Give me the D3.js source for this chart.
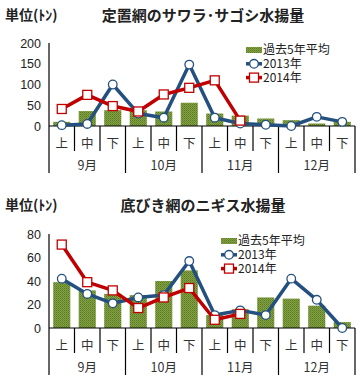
<!DOCTYPE html>
<html>
<head>
<meta charset="utf-8">
<script src="https://cdn.jsdelivr.net/npm/d3@7"></script>
<style>
  body { margin: 0; background: #fff; }
  svg { display: block; }
</style>
</head>
<body>
<script>
// categories
var months = ["9月", "10月", "11月", "12月"];
var parts = ["上", "中", "下"];
var legendNames = ["過去5年平均", "2013年", "2014年"];

// 定置網のサワラ・サゴシ (トン)
var sawaraAvg = [10, 36, 38, 38, 35, 56, 30, 25, 18, 14, 6, 10];
var sawara2013 = [2, 5, 100, 30, 20, 148, 20, 6, 3, 0, 22, 10];
var sawara2014 = [41, 75, 48, 35, 76, 92, 110, 13];

// 底びき網のニギス (トン)
var nigisuAvg = [39, 32, 29, 28, 40, 49, 11, 16, 26, 25, 19, 5];
var nigisu2013 = [42, 29, 21, 26, 28, 57, 11, 15, 11, 42, 24, 0];
var nigisu2014 = [71, 39, 32, 17, 26, 34, 7, 12];

var sawaraTicks = [0, 50, 100, 150, 200];
var nigisuTicks = [0, 20, 40, 60, 80];

var cats = [];
months.forEach(function (m) {
    parts.forEach(function (p) { cats.push(m + p); });
});

const blue = "#24507f",
      red = "#c00000",
      jp = "'Noto Sans CJK JP', sans-serif",
      num = "'Liberation Sans', Arial, sans-serif";

var svg = d3.select("body").append("svg")
    .attr("width", 362)
    .attr("height", 385);

// dithered green fill like the original
var pat = svg.append("defs").append("pattern")
    .attr("id", "dither")
    .attr("width", 2).attr("height", 2)
    .attr("patternUnits", "userSpaceOnUse");
pat.append("rect").attr("width", 2).attr("height", 2).attr("fill", "#82a243");
pat.append("rect").attr("width", 1).attr("height", 1).attr("fill", "#5c7a25");
pat.append("rect").attr("x", 1).attr("y", 1).attr("width", 1).attr("height", 1).attr("fill", "#6c8a2f");

function drawPanel(opt) {
    var g = svg.append("g").attr("transform", "translate(0," + opt.top + ")");

    var x = d3.scaleBand().domain(cats).range([49, 355]);
    var step = x.step();
    var y = d3.scaleLinear().domain([0, opt.ticks[opt.ticks.length - 1]]).range([opt.y0, opt.y1]);

    // titles
    g.append("text")
        .text("単位(ﾄﾝ)")
        .attr("x", 5).attr("y", 20)
        .attr("font-family", jp).attr("font-size", "14px").attr("font-weight", "bold")
        .attr("fill", "#222");
    g.append("text")
        .text(opt.title)
        .attr("x", 203).attr("y", 21)
        .attr("text-anchor", "middle")
        .attr("font-family", jp).attr("font-size", "15px").attr("font-weight", "bold")
        .attr("fill", "#222");

    // y axis labels
    opt.ticks.forEach(function (t) {
        g.append("text")
            .text(t)
            .attr("x", 41).attr("y", y(t) + 4.5)
            .attr("text-anchor", "end")
            .attr("font-family", num).attr("font-size", "12.5px")
            .attr("fill", "#222");
    });

    // bars
    var bw = step * 0.67;
    g.selectAll("rect.bar")
        .data(opt.avg)
        .enter().append("rect")
        .attr("class", "bar")
        .attr("x", function (d, i) { return x(cats[i]) + (step - bw) / 2; })
        .attr("y", function (d) { return y(d); })
        .attr("width", bw)
        .attr("height", function (d) { return y(0) - y(d); })
        .attr("fill", "url(#dither)");

    // axes
    g.append("line")
        .attr("x1", 49).attr("x2", 49)
        .attr("y1", y.range()[1]).attr("y2", y(0))
        .attr("stroke", "#000").attr("stroke-width", 1.2);
    g.append("line")
        .attr("x1", 49).attr("x2", 355)
        .attr("y1", y(0)).attr("y2", y(0))
        .attr("stroke", "#000").attr("stroke-width", 1.2);

    for (var i = 0; i <= cats.length; ++i) {
        var bx = 49 + i * step;
        var long = (i % 3 == 0);
        g.append("line")
            .attr("x1", bx).attr("x2", bx)
            .attr("y1", y(0)).attr("y2", y(0) + (long ? 47 : 25))
            .attr("stroke", "#000").attr("stroke-width", 1.2);
    }

    cats.forEach(function (c, i) {
        g.append("text")
            .text(parts[i % 3])
            .attr("x", x(c) + step / 2).attr("y", y(0) + 22)
            .attr("text-anchor", "middle")
            .attr("font-family", jp).attr("font-size", "12.5px")
            .attr("fill", "#333");
    });
    months.forEach(function (m, i) {
        g.append("text")
            .text(m)
            .attr("x", x(cats[i * 3]) + step * 1.5).attr("y", y(0) + 44)
            .attr("text-anchor", "middle")
            .attr("font-family", jp).attr("font-size", "12.5px")
            .attr("fill", "#333");
    });

    // lines
    var line = d3.line()
        .x(function (d, i) { return x(cats[i]) + step / 2; })
        .y(function (d) { return y(d); });

    g.append("path").datum(opt.s2013)
        .attr("d", line)
        .attr("fill", "none").attr("stroke", blue).attr("stroke-width", 3.5)
        .attr("stroke-linejoin", "round");
    g.selectAll("circle.s13")
        .data(opt.s2013)
        .enter().append("circle")
        .attr("class", "s13")
        .attr("cx", function (d, i) { return x(cats[i]) + step / 2; })
        .attr("cy", function (d) { return y(d); })
        .attr("r", 4.3)
        .attr("fill", "#fff").attr("stroke", blue).attr("stroke-width", 1.3);

    g.append("path").datum(opt.s2014)
        .attr("d", line)
        .attr("fill", "none").attr("stroke", red).attr("stroke-width", 3.5)
        .attr("stroke-linejoin", "round");
    g.selectAll("rect.s14")
        .data(opt.s2014)
        .enter().append("rect")
        .attr("class", "s14")
        .attr("x", function (d, i) { return x(cats[i]) + step / 2 - 4.5; })
        .attr("y", function (d) { return y(d) - 4.5; })
        .attr("width", 9).attr("height", 9)
        .attr("fill", "#fff").attr("stroke", red).attr("stroke-width", 1.3);

    // legend
    var lx = opt.legX, ly = opt.legY, rh = 13.8;
    g.append("rect")
        .attr("x", lx).attr("y", ly - 3)
        .attr("width", 16).attr("height", 6)
        .attr("fill", "url(#dither)");
    g.append("line")
        .attr("x1", lx).attr("x2", lx + 16)
        .attr("y1", ly + rh).attr("y2", ly + rh)
        .attr("stroke", blue).attr("stroke-width", 3.5);
    g.append("circle")
        .attr("cx", lx + 8).attr("cy", ly + rh).attr("r", 4.3)
        .attr("fill", "#fff").attr("stroke", blue).attr("stroke-width", 1.3);
    g.append("line")
        .attr("x1", lx).attr("x2", lx + 16)
        .attr("y1", ly + 2 * rh).attr("y2", ly + 2 * rh)
        .attr("stroke", red).attr("stroke-width", 3.5);
    g.append("rect")
        .attr("x", lx + 3.5).attr("y", ly + 2 * rh - 4.5)
        .attr("width", 9).attr("height", 9)
        .attr("fill", "#fff").attr("stroke", red).attr("stroke-width", 1.3);
    legendNames.forEach(function (n, i) {
        g.append("text")
            .text(n)
            .attr("x", lx + 17).attr("y", ly + i * rh + 4.3)
            .attr("font-family", jp).attr("font-size", "12px")
            .attr("fill", "#222");
    });
}

drawPanel({
    top: 0,
    title: "定置網のサワラ･サゴシ水揚量",
    ticks: sawaraTicks,
    y0: 126, y1: 43,
    avg: sawaraAvg, s2013: sawara2013, s2014: sawara2014,
    legX: 246, legY: 50
});

drawPanel({
    top: 190,
    title: "底びき網のニギス水揚量",
    ticks: nigisuTicks,
    y0: 138, y1: 44,
    avg: nigisuAvg, s2013: nigisu2013, s2014: nigisu2014,
    legX: 221, legY: 51
});
</script>
</body>
</html>
